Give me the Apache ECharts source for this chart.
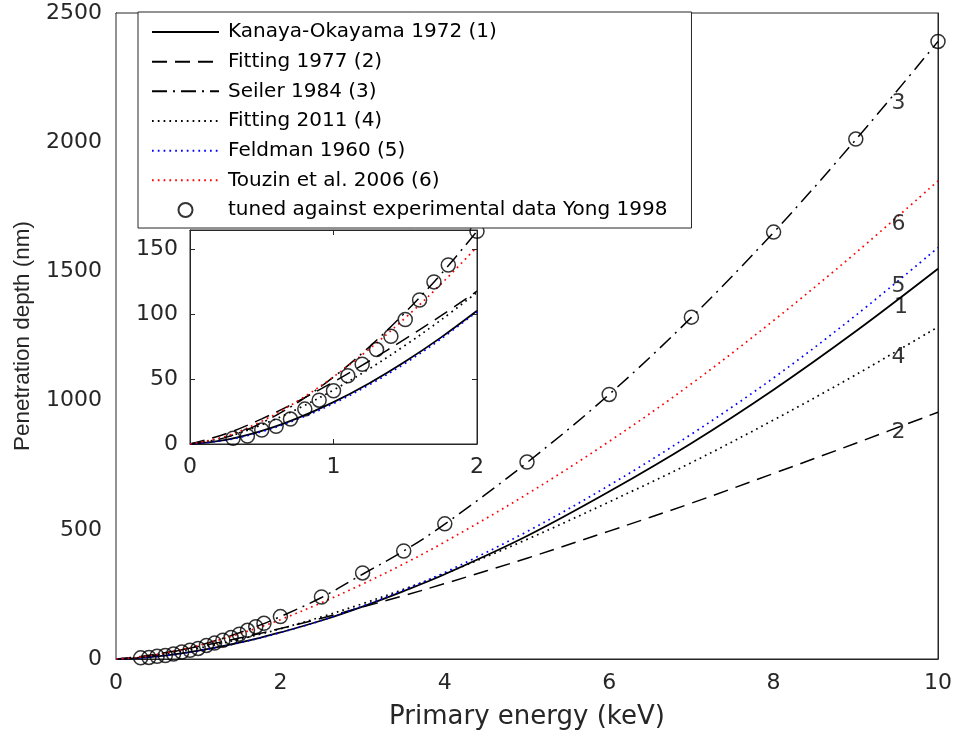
<!DOCTYPE html>
<html><head><meta charset="utf-8">
<script src="https://cdn.jsdelivr.net/npm/echarts@6/dist/echarts.min.js"></script>
<style>html,body{margin:0;padding:0;background:#fff}#c{width:957px;height:736px}</style>
</head><body><div id="c"></div>
<script>
// ---- data ----
const energy      = [0, 0.25, 0.5, 0.75, 1, 1.25, 1.5, 1.75, 2, 2.5, 3, 3.5, 4, 5, 6, 7, 8, 9, 10];
const kanaya      = [0, 3.2, 10.1, 20.0, 32.3, 46.9, 63.6, 82.2, 102.7, 149, 203, 263, 328, 476, 648, 835, 1042, 1268, 1510];
const fitting1977 = [0, 7.9, 19.4, 32.9, 47.9, 64.0, 81.1, 99.0, 117.9, 157.6, 201, 245, 292, 390, 495, 603, 718, 835, 955];
const seiler      = [0, 5.1, 16.3, 32.0, 51.6, 74.9, 101.5, 131.1, 164, 238, 328, 418, 522, 760, 1024, 1322, 1651, 2010, 2390];
const fitting2011 = [0, 5.3, 14.8, 27.1, 41.6, 58.0, 76.1, 95.7, 116.9, 163, 214, 270, 330, 463, 608, 760, 925, 1100, 1285];
const feldman     = [0, 2.9, 9.5, 19.1, 31.2, 45.7, 62.3, 81.1, 102, 149, 205, 267, 335, 493, 672, 870, 1088, 1330, 1592];
const touzin      = [0, 6.0, 17.6, 33.1, 51.8, 73.3, 97.2, 123.4, 152, 218, 290, 368, 453, 638, 842, 1065, 1310, 1572, 1850];

const yongEnergy = [0.3, 0.4, 0.5, 0.6, 0.7, 0.8, 0.9, 1.0, 1.1, 1.2, 1.3, 1.4, 1.5, 1.6, 1.7, 1.8, 2, 2.5, 3, 3.5, 4, 5, 6, 7, 8, 9, 10];
const yongDepth  = [4.4, 6.2, 10.8, 13.6, 19.2, 26.9, 33.8, 41, 52.6, 61.5, 72.8, 83, 96, 111, 125, 138, 164, 240, 333, 418, 523, 762, 1024, 1323, 1652, 2012, 2390];

const seriesNames = ['Kanaya-Okayama 1972 (1)', 'Fitting 1977 (2)', 'Seiler 1984 (3)', 'Fitting 2011 (4)', 'Feldman 1960 (5)', 'Touzin et al. 2006 (6)'];
const yongName = 'tuned against experimental data Yong 1998';
const curveTags = ['1', '2', '3', '4', '5', '6'];
// annotation anchors (energy, depth) for the curve numbers
const tagEnergy = [9.55, 9.52, 9.52, 9.52, 9.52, 9.52];
const tagDepth  = [1362, 878, 2150, 1169, 1443, 1683];

const mainX = {min: 0, max: 10, interval: 2};
const mainY = {min: 0, max: 2500, interval: 500};
const insetX = {min: 0, max: 2, interval: 1};
const insetY = {min: 0, max: 165, interval: 50};
const insetLimit = 2;

// ---- styles ----
const FONT = '"DejaVu Sans", "Liberation Sans", Arial, sans-serif';
const FONT_NARROW = '"Liberation Sans", Arial, Helvetica, sans-serif';
const INK = '#262626';
const styles = [
  {color: '#000', type: 'solid', width: 1.8},
  {color: '#000', type: [15, 8], width: 1.5},
  {color: '#000', type: [15, 6, 2, 6], width: 1.5},
  {color: '#000', type: [1.7, 4.1], width: 1.7},
  {color: '#0000ff', type: [1.7, 4.1], width: 1.7},
  {color: '#ff0000', type: [1.7, 4.1], width: 1.7}
];
const curves = [kanaya, fitting1977, seiler, fitting2011, feldman, touzin];

function pairs(xs, ys, limit) {
  const out = [];
  for (let i = 0; i < xs.length; i++) if (limit === undefined || xs[i] <= limit + 1e-9) out.push([xs[i], ys[i]]);
  return out;
}
const plain = v => String(v);

function axisBase(r, opts) {
  return Object.assign({
    type: 'value', min: r.min, max: r.max, interval: r.interval,
    axisLine: {show: true, onZero: false, lineStyle: {color: INK, width: 1}},
    axisTick: {show: true, inside: true, length: 8, lineStyle: {color: INK}},
    axisLabel: {show: true, color: INK, fontFamily: FONT, fontSize: 22, formatter: plain},
    splitLine: {show: false}
  }, opts);
}

const series = [];
// main curves
curves.forEach((c, i) => {
  series.push({
    name: seriesNames[i], type: 'line', xAxisIndex: 0, yAxisIndex: 0,
    data: pairs(energy, c), smooth: 0.35, symbol: 'none', showSymbol: false,
    lineStyle: {color: styles[i].color, type: styles[i].type, width: styles[i].width, cap: 'butt'},
    itemStyle: {color: styles[i].color, opacity: 0}, z: 3
  });
});
series.push({
  name: yongName, type: 'scatter', xAxisIndex: 0, yAxisIndex: 0,
  data: pairs(yongEnergy, yongDepth), symbol: 'circle', symbolSize: 14,
  itemStyle: {color: 'rgba(0,0,0,0)', borderColor: '#000', borderWidth: 1.5}, z: 4
});
// inset curves
curves.forEach((c, i) => {
  series.push({
    name: seriesNames[i], type: 'line', xAxisIndex: 2, yAxisIndex: 2,
    data: pairs(energy, c, insetLimit), smooth: 0.35, symbol: 'none', showSymbol: false,
    lineStyle: {color: styles[i].color, type: styles[i].type, width: styles[i].width, cap: 'butt'},
    itemStyle: {color: styles[i].color, opacity: 0}, z: 8
  });
});
series.push({
  name: yongName, type: 'scatter', xAxisIndex: 2, yAxisIndex: 2,
  data: pairs(yongEnergy, yongDepth, insetLimit), symbol: 'circle', symbolSize: 14,
  itemStyle: {color: 'rgba(0,0,0,0)', borderColor: '#000', borderWidth: 1.5}, z: 9, clip: false
});
// curve number tags
series.push({
  type: 'scatter', xAxisIndex: 0, yAxisIndex: 0, silent: true,
  data: curveTags.map((t, i) => [tagEnergy[i], tagDepth[i], t]),
  symbol: 'circle', symbolSize: 1, itemStyle: {color: 'rgba(0,0,0,0)'},
  label: {show: true, position: 'inside', formatter: p => p.data[2], color: '#000', fontFamily: FONT, fontSize: 22},
  z: 5
});

const option = {
  animation: false,
  backgroundColor: '#fff',
  textStyle: {fontFamily: FONT},
  grid: [
    {left: 116, top: 13, right: 19, bottom: 77, show: true, borderColor: INK, borderWidth: 1, backgroundColor: '#fff', z: 1},
    {left: 190, top: 230, width: 287, height: 214, show: true, borderColor: INK, borderWidth: 1, backgroundColor: '#fff', z: 6}
  ],
  xAxis: [
    axisBase(mainX, {gridIndex: 0, position: 'bottom', axisLabel: {color: INK, fontFamily: FONT, fontSize: 22, margin: 13, formatter: plain},
      splitLine: {show: true, lineStyle: {color: '#e3e3e3', width: 1}},
      name: 'Primary energy (keV)', nameLocation: 'middle', nameGap: 45,
      nameTextStyle: {color: INK, fontFamily: FONT, fontSize: 26}}),
    axisBase(mainX, {gridIndex: 0, position: 'top', axisLabel: {show: false}}),
    axisBase(insetX, {gridIndex: 1, position: 'bottom', z: 7, axisTick: {show: true, inside: true, length: 5, lineStyle: {color: INK}},
      axisLabel: {color: INK, fontFamily: FONT, fontSize: 22, margin: 12, formatter: plain}}),
    axisBase(insetX, {gridIndex: 1, position: 'top', z: 7, axisTick: {show: true, inside: true, length: 5, lineStyle: {color: INK}}, axisLabel: {show: false}})
  ],
  yAxis: [
    axisBase(mainY, {gridIndex: 0, position: 'left', axisLabel: {color: INK, fontFamily: FONT, fontSize: 22, margin: 14, formatter: plain},
      splitLine: {show: true, lineStyle: {color: '#e3e3e3', width: 1}},
      name: 'Penetration depth (nm)', nameLocation: 'middle', nameGap: 82,
      nameTextStyle: {color: INK, fontFamily: FONT_NARROW, fontSize: 22.5}}),
    axisBase(mainY, {gridIndex: 0, position: 'right', axisLabel: {show: false}}),
    axisBase(insetY, {gridIndex: 1, position: 'left', z: 7, axisTick: {show: true, inside: true, length: 5, lineStyle: {color: INK}},
      axisLabel: {color: INK, fontFamily: FONT, fontSize: 22, margin: 12,
        formatter: v => (Math.abs(v % insetY.interval) < 1e-9 ? String(v) : '')}}),
    axisBase(insetY, {gridIndex: 1, position: 'right', z: 7, axisTick: {show: true, inside: true, length: 5, lineStyle: {color: INK}}, axisLabel: {show: false}})
  ],
  legend: {
    orient: 'vertical', left: 138, top: 12,
    data: seriesNames.concat([yongName]),
    backgroundColor: '#fff', borderColor: INK, borderWidth: 1, borderRadius: 0,
    padding: [10, 24, 8, 13],
    itemWidth: 67, itemHeight: 14, itemGap: 9.67,
    itemStyle: {opacity: 'inherit'},
    textStyle: {color: '#000', fontFamily: FONT, fontSize: 20, lineHeight: 20, padding: [0, 0, 0, 4]},
    selectedMode: false, z: 10
  },
  series: series
};

const chart = echarts.init(document.getElementById('c'), null, {renderer: 'canvas'});
chart.setOption(option);
</script>
</body></html>
